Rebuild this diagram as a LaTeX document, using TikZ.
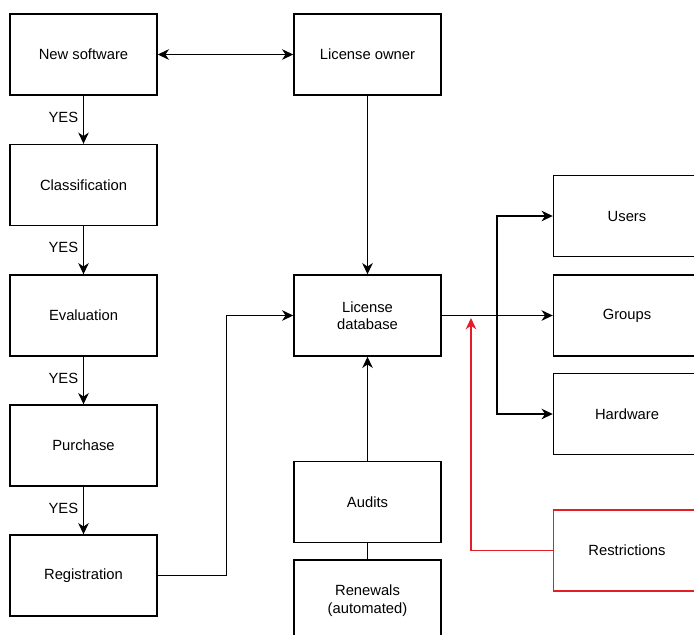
\documentclass[tikz,border=0pt]{standalone}
\usepackage{fontspec}
\setmainfont{Liberation Sans}
\usetikzlibrary{arrows.meta}
\definecolor{restrred}{RGB}{228,30,38}
\begin{document}
\begin{tikzpicture}[x=0.025cm, y=-0.025cm,
  box/.style={draw, line width=1pt, align=center, minimum width=3.675cm, minimum height=2.025cm, font=\fontsize{10.5}{12.5}\selectfont},
  arr/.style={line width=1pt, -{Stealth[length=8pt,width=7.5pt,inset=2.5pt]}},
  lbl/.style={font=\fontsize{10.5}{12.5}\selectfont}]
\useasboundingbox (0,0) rectangle (694,634);
\clip (0,0) rectangle (694,634);
\node[box] (newsw) at (83.5,54.5) {New software};
\node[box] (owner) at (367.5,54.5) {License owner};
\node[box] (class) at (83.5,185) {Classification};
\node[box] (eval) at (83.5,315.5) {Evaluation};
\node[box] (purch) at (83.5,445.5) {Purchase};
\node[box] (reg) at (83.5,575.5) {Registration};
\node[box] (db) at (367.5,315.5) {License\\database};
\node[box] (audits) at (367.5,502) {Audits};
\node[box] (renew) at (367.5,600.5) {Renewals\\(automated)};
\node[box] (users) at (627,216) {Users};
\node[box] (groups) at (627,315.5) {Groups};
\node[box] (hw) at (627,414) {Hardware};
\node[box, draw=restrred] (restr) at (627,550.5) {Restrictions};
\draw[arr, {Stealth[length=8pt,width=7.5pt,inset=2.5pt]}-{Stealth[length=8pt,width=7.5pt,inset=2.5pt]}] (newsw) -- (owner);
\draw[arr] (newsw) -- node[lbl, pos=0.45, left] {YES} (class);
\draw[arr] (class) -- node[lbl, pos=0.45, left] {YES} (eval);
\draw[arr] (eval) -- node[lbl, pos=0.45, left] {YES} (purch);
\draw[arr] (purch) -- node[lbl, pos=0.45, left] {YES} (reg);
\draw[arr] (reg.east) -- ++(69,0) |- (db.west);
\draw[arr] (owner) -- (db);
\draw[arr] (audits) -- (db);
\draw[line width=1pt] (audits) -- (renew);
% fan-out to the right
\coordinate (split) at (497,315.5);
\draw[arr] (db) -- (groups);
\draw[arr] (split) |- (users.west);
\draw[arr] (split) |- (hw.west);
\coordinate (redtip) at (471,318);
\draw[arr, restrred] (restr.west) -| (redtip);
\end{tikzpicture}
\end{document}
